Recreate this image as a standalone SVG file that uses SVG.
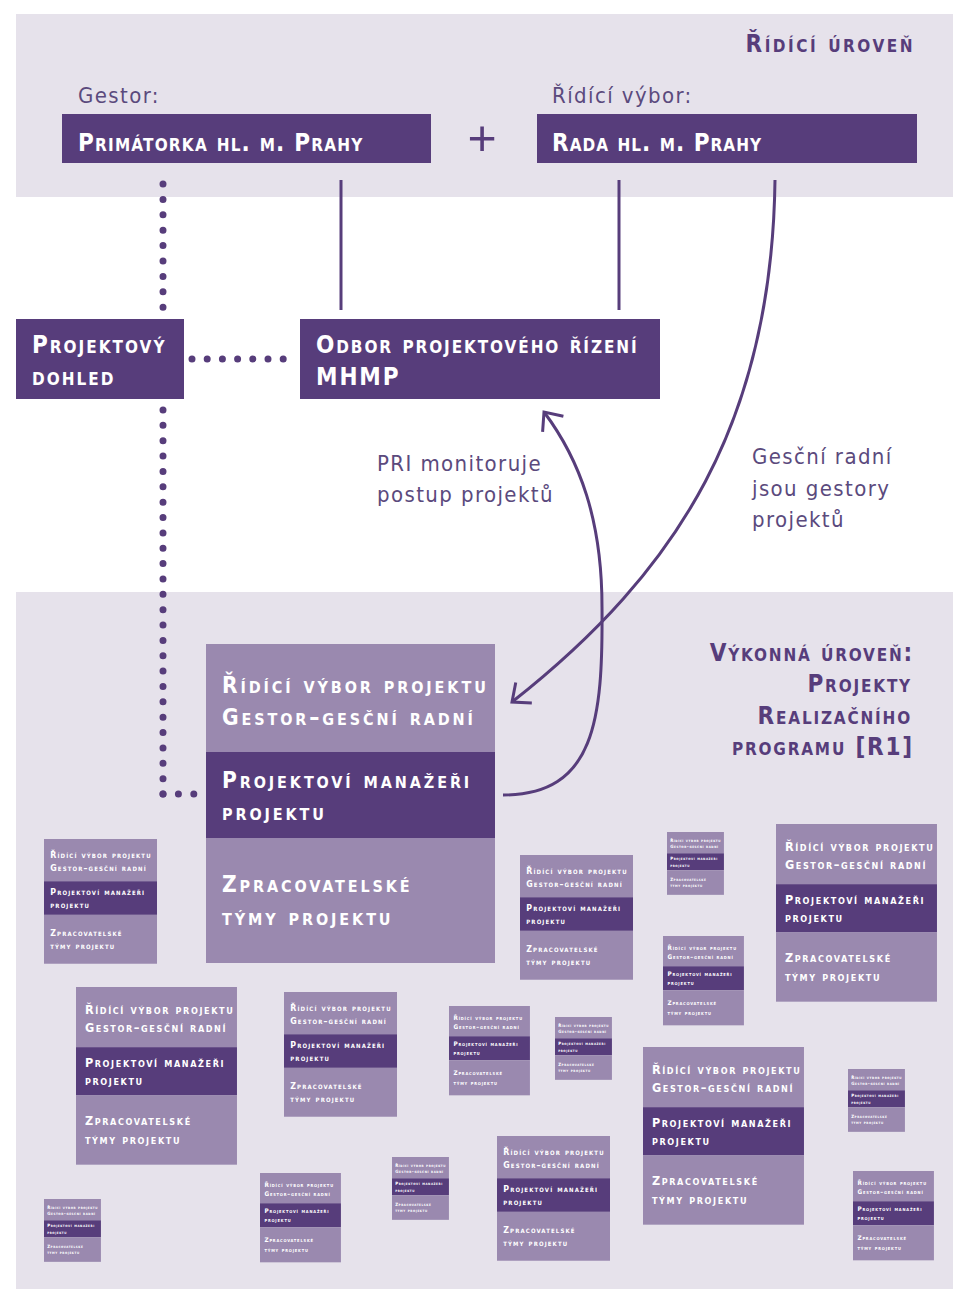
<svg xmlns="http://www.w3.org/2000/svg" xmlns:xlink="http://www.w3.org/1999/xlink" width="953" height="1289" viewBox="0 0 953 1289">
<style>
.bg{fill:#e6e2eb}
.dk{fill:#573d7b}
.lt{fill:#9a89af}
.sc{font-family:"DejaVu Sans Condensed","DejaVu Sans",sans-serif;font-stretch:condensed;font-weight:bold;font-variant:small-caps}
.w{fill:#ffffff}
.p{fill:#573d7b}
.rg{font-family:"DejaVu Sans Condensed","DejaVu Sans",sans-serif;font-stretch:condensed;font-size:22px;letter-spacing:1.4px;fill:#5b4a7d}
.ln{fill:none;stroke:#573d7b;stroke-width:3}
.dot{fill:none;stroke:#573d7b;stroke-width:7;stroke-linecap:round}
</style>
<defs>
<marker id="ah" viewBox="-18 -16 22 32" markerWidth="22" markerHeight="32" refX="0" refY="0" orient="auto" markerUnits="userSpaceOnUse">
<path d="M-15,-13 L0,0 L-15,13" fill="none" stroke="#573d7b" stroke-width="3"/>
</marker>
<g id="proj">
<rect class="lt" x="0" y="0" width="289" height="108"/>
<rect class="dk" x="0" y="108" width="289" height="86"/>
<rect class="lt" x="0" y="194" width="289" height="125"/>
<g class="sc w" font-size="22.5" letter-spacing="2.9">
<text x="16" y="49">Řídící výbor projektu</text>
<text x="16" y="81">Gestor–gesční radní</text>
<text x="16" y="144">Projektoví manažeři</text>
<text x="16" y="176">projektu</text>
<text x="16" y="248">Zpracovatelské</text>
<text x="16" y="281">týmy projektu</text>
</g>
</g>
</defs>
<g id="panels">
<rect class="bg" x="16" y="14" width="937" height="183"/>
<rect class="bg" x="16" y="592" width="937" height="697"/>
</g>
<g id="labels">
<text class="sc p" font-size="24" letter-spacing="2.5" x="915" y="52" text-anchor="end">Řídící úroveň</text>
<text class="rg" x="78" y="103">Gestor:</text>
<text class="rg" x="552" y="103">Řídící výbor:</text>
<text x="482" y="155" text-anchor="middle" font-family="Liberation Sans,sans-serif" font-size="50" fill="#573d7b">+</text>
<text class="rg" x="377" y="471">PRI monitoruje</text>
<text class="rg" x="377" y="502">postup projektů</text>
<text class="rg" x="752" y="464">Gesční radní</text>
<text class="rg" x="752" y="496">jsou gestory</text>
<text class="rg" x="752" y="527">projektů</text>
<g class="sc p" font-size="24" letter-spacing="1.8" text-anchor="end">
<text x="914" y="661">Výkonná úroveň:</text>
<text x="912" y="692">Projekty</text>
<text x="912" y="724">Realizačního</text>
<text x="914" y="755">programu [R1]</text>
</g>
</g>
<g id="connectors">
<line class="ln" x1="341" y1="180" x2="341" y2="310"/>
<line class="ln" x1="619" y1="180" x2="619" y2="310"/>
<path class="ln" d="M775,180 C772,420 680,570 512,702" marker-end="url(#ah)"/>
<path class="ln" d="M503,795 C595,795 603,720 602,607 C602,520 580,460 544,412" marker-end="url(#ah)"/>
<line class="dot" x1="163" y1="184" x2="163" y2="310" stroke-dasharray="0 15.4"/>
<line class="dot" x1="163" y1="410" x2="163" y2="795" stroke-dasharray="0 15.36"/>
<line class="dot" x1="163" y1="794" x2="195" y2="794" stroke-dasharray="0 15.4"/>
<line class="dot" x1="192" y1="359" x2="284" y2="359" stroke-dasharray="0 15.2"/>
</g>
<g id="primatorka">
<rect class="dk" x="62" y="114" width="369" height="49"/>
<text class="sc w" font-size="24" letter-spacing="1.2" x="78" y="151">Primátorka hl. m. Prahy</text>
</g>
<g id="rada">
<rect class="dk" x="537" y="114" width="380" height="49"/>
<text class="sc w" font-size="24" letter-spacing="1.0" x="552" y="151">Rada hl. m. Prahy</text>
</g>
<g id="dohled">
<rect class="dk" x="16" y="319" width="168" height="80"/>
<text class="sc w" font-size="24" letter-spacing="2" x="32" y="353">Projektový</text>
<text class="sc w" font-size="24" letter-spacing="2" x="32" y="385">dohled</text>
</g>
<g id="odbor">
<rect class="dk" x="300" y="319" width="360" height="80"/>
<text class="sc w" font-size="24" letter-spacing="1.9" x="316" y="353">Odbor projektového řízení</text>
<text class="sc w" font-size="24" letter-spacing="1.9" x="316" y="385">MHMP</text>
</g>
<g id="projekt-main" transform="translate(206,644)"><use href="#proj"/></g>
<g id="projekt-01" transform="translate(44,839) scale(0.391)"><use href="#proj"/></g>
<g id="projekt-02" transform="translate(520,855) scale(0.391)"><use href="#proj"/></g>
<g id="projekt-03" transform="translate(667,832) scale(0.197)"><use href="#proj"/></g>
<g id="projekt-04" transform="translate(776,824) scale(0.557)"><use href="#proj"/></g>
<g id="projekt-05" transform="translate(663,936) scale(0.28)"><use href="#proj"/></g>
<g id="projekt-06" transform="translate(76,987) scale(0.557)"><use href="#proj"/></g>
<g id="projekt-07" transform="translate(284,992) scale(0.391)"><use href="#proj"/></g>
<g id="projekt-08" transform="translate(449,1006) scale(0.28)"><use href="#proj"/></g>
<g id="projekt-09" transform="translate(555,1017) scale(0.197)"><use href="#proj"/></g>
<g id="projekt-10" transform="translate(643,1047) scale(0.557)"><use href="#proj"/></g>
<g id="projekt-11" transform="translate(848,1069) scale(0.197)"><use href="#proj"/></g>
<g id="projekt-12" transform="translate(497,1136) scale(0.391)"><use href="#proj"/></g>
<g id="projekt-13" transform="translate(260,1173) scale(0.28)"><use href="#proj"/></g>
<g id="projekt-14" transform="translate(392,1157) scale(0.197)"><use href="#proj"/></g>
<g id="projekt-15" transform="translate(44,1199) scale(0.197)"><use href="#proj"/></g>
<g id="projekt-16" transform="translate(853,1171) scale(0.28)"><use href="#proj"/></g>
</svg>
